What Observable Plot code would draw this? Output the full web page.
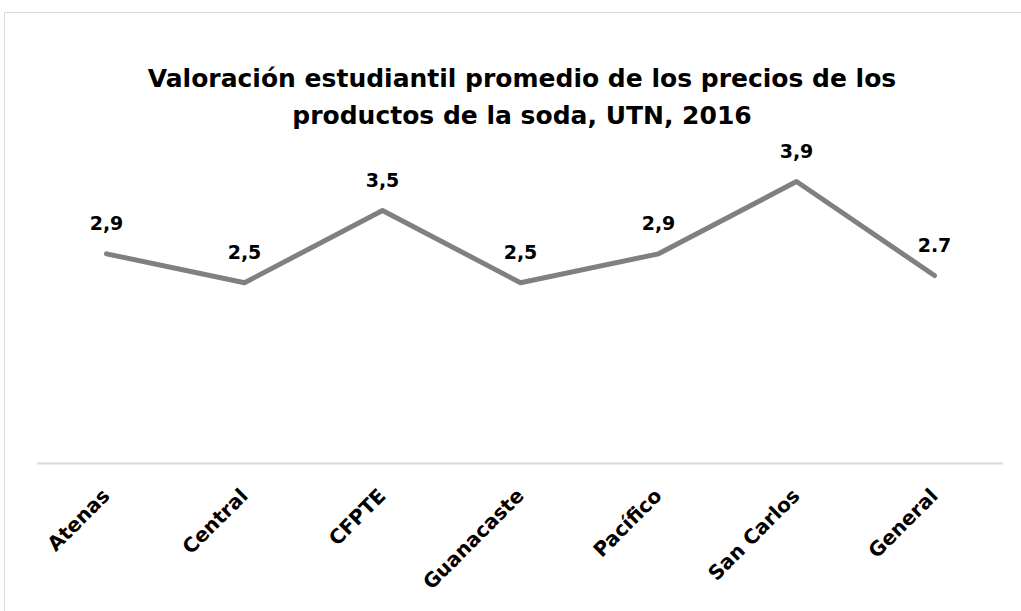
<!DOCTYPE html>
<html>
<head>
<meta charset="utf-8">
<script src="https://cdn.jsdelivr.net/npm/d3@7"></script>
<script src="https://cdn.jsdelivr.net/npm/@observablehq/plot@0.6"></script>
<style>
  html, body { margin: 0; padding: 0; background: #fff; overflow: hidden; width: 1021px; height: 611px; }
  #frame { position: absolute; left: 4px; top: 12px; width: 1040px; height: 640px; border: 1px solid #d9d9d9; box-sizing: border-box; }
  #title { position: absolute; left: 0; top: 60px; width: 1044px; text-align: center; font-family: "DejaVu Sans", sans-serif; font-weight: 700; font-size: 25px; line-height: 37px; color: #000; }
  #chart { position: absolute; left: 0; top: 130px; }
</style>
</head>
<body>
<div id="frame"></div>
<div id="title">Valoración estudiantil promedio de los precios de los<br>productos de la soda, UTN, 2016</div>
<div id="chart"></div>
<script>
const categories = ["Atenas", "Central", "CFPTE", "Guanacaste", "Pacífico", "San Carlos", "General"];
const values = [2.9, 2.5, 3.5, 2.5, 2.9, 3.9, 2.6];
const valueLabels = ["2,9", "2,5", "3,5", "2,5", "2,9", "3,9", "2.7"];

const data = categories.map((c, i) => ({cat: c, v: values[i], lab: valueLabels[i]}));

const plot = Plot.plot({
  width: 1021,
  height: 481,
  marginLeft: 37,
  marginRight: 18,
  marginTop: 43.8,
  marginBottom: 148,
  style: {fontFamily: "'DejaVu Sans', sans-serif", background: "transparent", overflow: "visible"},
  x: {type: "point", domain: categories, padding: 0.5, label: null},
  y: {domain: [0, 4], axis: null},
  marks: [
    Plot.ruleY([0], {stroke: "#d9d9d9", strokeWidth: 2}),
    Plot.axisX({tickSize: 0, tickRotate: -45, tickPadding: 29, fontSize: 20, fontWeight: 700, fill: "#000", label: null}),
    Plot.line(data, {x: "cat", y: "v", stroke: "#808080", strokeWidth: 5, strokeLinecap: "round", strokeLinejoin: "round"}),
    Plot.text(data, {x: "cat", y: "v", text: "lab", dy: -30, fontSize: 19, fontWeight: 700, fill: "#000"})
  ]
});
document.getElementById("chart").appendChild(plot);
</script>
</body>
</html>
